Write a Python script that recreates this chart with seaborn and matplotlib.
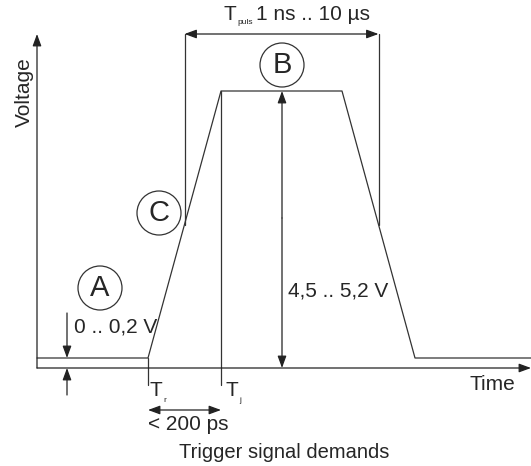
import numpy as np
import matplotlib
matplotlib.use("Agg")
import matplotlib.pyplot as plt
import seaborn as sns
import pandas as pd
from matplotlib.patches import Circle

sns.set_style("white")
plt.rcParams['font.family'] = ['Liberation Sans', 'DejaVu Sans']

# pulse waveform (diagram units, origin at the axes cross)
pulse_t = [0, 111, 184, 305, 378, 494]
pulse_v = [10, 10, 277, 277, 10, 10]

# labels
lbl_voltage = "Voltage"
lbl_time = "Time"
lbl_low = "0 .. 0,2 V"
lbl_high = "4,5 .. 5,2 V"
lbl_puls = "1 ns .. 10 µs"
lbl_jitter = "< 200 ps"
lbl_title = "Trigger signal demands"
circle_labels = ["A", "B", "C"]

df = pd.DataFrame({"t": pulse_t, "v": pulse_v})

fig = plt.figure(figsize=(5.31, 4.66), dpi=100)
ax = fig.add_axes([0, 0, 1, 1])
ax.set_xlim(-37, 494)
ax.set_ylim(-98, 368)
ax.axis("off")

lc = "#333333"
fs = 15
sns.lineplot(data=df, x="t", y="v", ax=ax, color=lc, lw=0.9, sort=False)

low, top = pulse_v[0], pulse_v[2]
t_r, t_j = pulse_t[1], pulse_t[2]
mid = (low + top) / 2
t_left = np.interp(mid, [low, top], [pulse_t[1], pulse_t[2]])
t_right = np.interp(mid, [low, top], [pulse_t[4], pulse_t[3]])

def arrow(x0, y0, x1, y1, both=False):
    style = "<|-|>" if both else "-|>"
    ax.annotate("", xy=(x1, y1), xytext=(x0, y0),
                arrowprops=dict(arrowstyle=style + ",head_length=0.6,head_width=0.22",
                                color="#222222", lw=0.9, shrinkA=0, shrinkB=0,
                                mutation_scale=12))

# axes
arrow(0, 0, 0, 334)
arrow(0, 0, 494, 0)

# T_puls marker
ax.plot([t_left, t_left], [mid, 334], color=lc, lw=0.9)
ax.plot([t_right, t_right], [mid, 334], color=lc, lw=0.9)
arrow(t_left, 334, t_right, 334, both=True)
ax.text(186, 353, "T", fontsize=fs, ha="left", va="center")
ax.text(200, 345, "puls", fontsize=6, ha="left", va="center")
ax.text(219, 353, lbl_puls, fontsize=fs, ha="left", va="center")

# Tr / Tj
ax.plot([t_r, t_r], [low, -17], color=lc, lw=0.9)
ax.plot([t_j, t_j], [top, -17], color=lc, lw=0.9)
ax.text(112, -22, "T", fontsize=fs, ha="left", va="center")
ax.text(126, -33, "r", fontsize=6, ha="left", va="center")
ax.text(188, -22, "T", fontsize=fs, ha="left", va="center")
ax.text(202, -32, "j", fontsize=6, ha="left", va="center")
arrow(t_r, -42, t_j, -42, both=True)
ax.text(111, -56, lbl_jitter, fontsize=fs, ha="left", va="center")

# high level
arrow(245, 150, 245, 0)
arrow(245, 150, 245, top)
ax.text(251, 77, lbl_high, fontsize=fs, ha="left", va="center")

# low level
arrow(30, 55, 30, low)
arrow(30, -27, 30, 0)
ax.text(37, 41, lbl_low, fontsize=fs, ha="left", va="center")

# circles
for lab, (cx, cy) in zip(circle_labels, [(63, 80), (245, 303), (122, 155)]):
    ax.add_patch(Circle((cx, cy), 22, fill=False, ec=lc, lw=0.9))
    ax.text(cx, cy, lab, fontsize=21, ha="center", va="center")

ax.text(-13, 276, lbl_voltage, fontsize=fs, rotation=90, ha="center", va="center")
ax.text(432, -16, lbl_time, fontsize=fs, ha="left", va="center")
ax.text(247, -84, lbl_title, fontsize=14.5, ha="center", va="center")

fig.savefig("out.png", dpi=100)
